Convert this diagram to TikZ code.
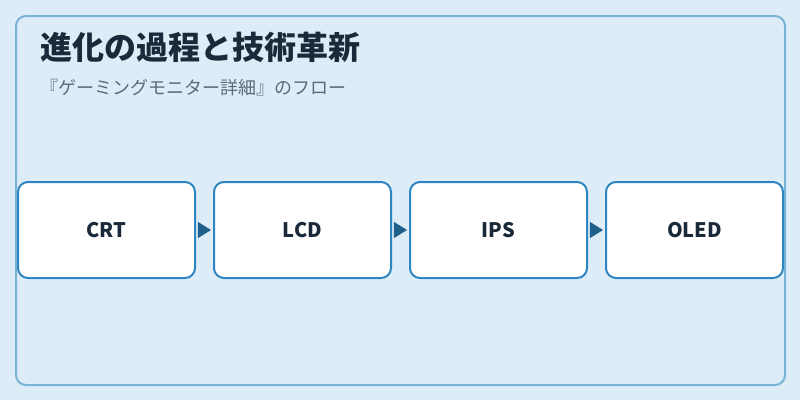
\documentclass[tikz,border=0pt]{standalone}
\usepackage{fontspec}
\newfontfamily\cjk{Noto Sans CJK JP}
\usetikzlibrary{arrows.meta, decorations.markings}
\definecolor{bgblue}{HTML}{DDEDF8}
\definecolor{frameblue}{HTML}{7AB3D6}
\definecolor{boxblue}{HTML}{2E86C1}
\definecolor{arrowblue}{HTML}{1F5F8B}
\definecolor{titleink}{HTML}{1B2A3A}
\definecolor{subink}{HTML}{5B6B7B}
\tikzset{stagebox/.style={draw=boxblue, line width=1.5pt, fill=white, rounded corners=7.5pt, minimum width=132.75pt, minimum height=72pt, inner sep=0pt, text=titleink, font=\cjk\bfseries\fontsize{15}{18}\selectfont}}
\tikzset{flow/.style={postaction={decorate, decoration={markings, mark=at position #1 with {\arrow{Triangle[length=9.75pt, width=12pt]}}}}}}
\tikzset{flow/.default=0.88}

\begin{document}
\begin{tikzpicture}[x=0.75pt, y=-0.75pt]
            \useasboundingbox[fill=bgblue] (0, 0) rectangle (800, 400);
            \draw[frameblue, line width=1.5pt, rounded corners=7.5pt] (16, 16) rectangle (785, 385);
            \node[anchor=west, inner sep=0pt, text=titleink, font=\cjk\bfseries\fontsize{24}{28}\selectfont] (title) at (40, 47) {進化の過程と技術革新};
            \node[anchor=west, inner sep=0pt, text=subink, font=\cjk\fontsize{13.5}{16}\selectfont] (subtitle) at (40, 88) {『ゲーミングモニター詳細』のフロー};
            \foreach \name/\label [count=\i from 0] in {crt/CRT, lcd/LCD, ips/IPS, oled/OLED} {
                \node[stagebox] (\name) at (106.5 + 196*\i, 230) {\label};
            }
            \foreach \from/\to in {crt/lcd, lcd/ips, ips/oled} {
                \path[flow, arrowblue] (\from.east) -- (\to.west);
            }
        \end{tikzpicture}
\end{document}
